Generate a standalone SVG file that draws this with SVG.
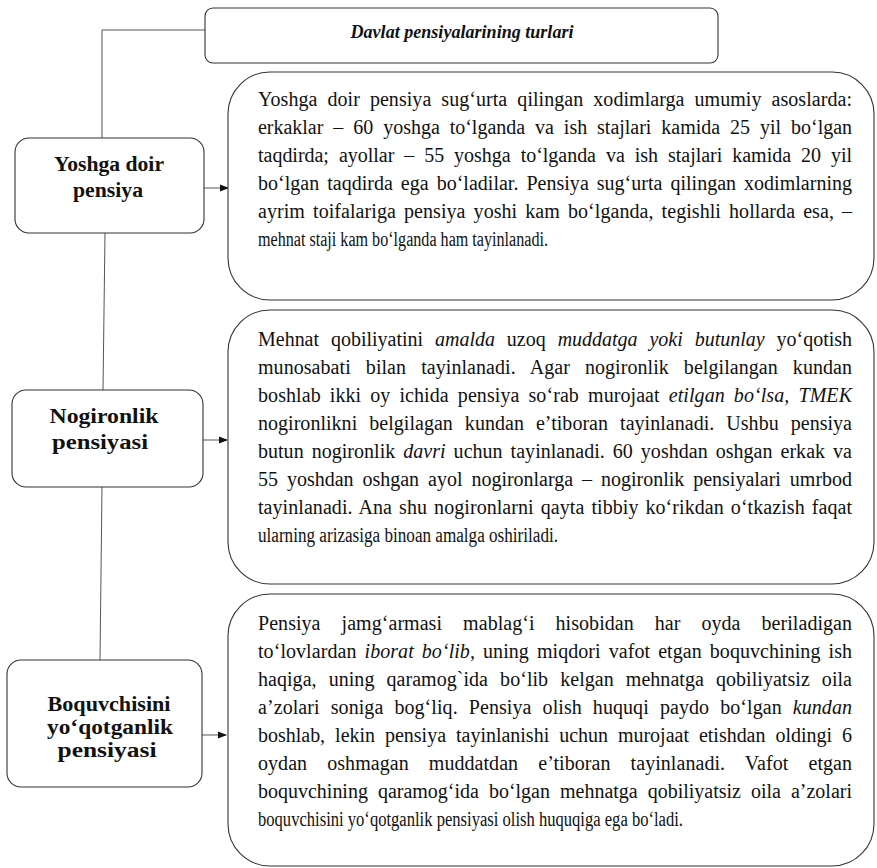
<svg xmlns="http://www.w3.org/2000/svg" width="877" height="868" viewBox="0 0 877 868">
<defs>
<style>
.box{fill:#fff;stroke:#333;stroke-width:1.1}
.tbox{fill:#fff;stroke:#333;stroke-width:1.1}
.conn{fill:none;stroke:#555;stroke-width:1}
.lbl{font-family:"Liberation Serif","Times New Roman",serif;font-weight:bold;font-size:20px;fill:#111;text-anchor:middle}
.ttl{font-family:"Liberation Serif","Times New Roman",serif;font-weight:bold;font-style:italic;font-size:18px;fill:#111;text-anchor:middle}
.body{font-family:"Liberation Serif","Times New Roman",serif;font-size:20px;fill:#111}
.it{font-style:italic}
</style>
<marker id="ah" markerWidth="9" markerHeight="8" refX="8" refY="4" orient="auto" markerUnits="userSpaceOnUse">
<path d="M0,0.5 L9,4 L0,7.5 Z" fill="#111"/>
</marker>
</defs>
<rect width="877" height="868" fill="#fff"/>

<g id="connectors">
<polyline class="conn" points="205,30 102,30 102,138"/>
<line class="conn" x1="105" y1="233" x2="103" y2="390"/>
<line class="conn" x1="102" y1="487" x2="100" y2="660"/>
<line class="conn" x1="204" y1="188" x2="228" y2="188" marker-end="url(#ah)"/>
<line class="conn" x1="203" y1="440" x2="227" y2="440" marker-end="url(#ah)"/>
<line class="conn" x1="202" y1="735" x2="226" y2="735" marker-end="url(#ah)"/>
</g>

<g id="title">
<rect class="box" x="205" y="8" width="513" height="55" rx="8"/>
<text class="ttl" x="462" y="38" textLength="223" lengthAdjust="spacingAndGlyphs">Davlat pensiyalarining turlari</text>
</g>

<g id="yoshga">
<rect class="box" x="15" y="138" width="189" height="95" rx="14"/>
<text class="lbl" x="109" y="171" textLength="110" lengthAdjust="spacingAndGlyphs">Yoshga doir</text>
<text class="lbl" x="108" y="197" textLength="70" lengthAdjust="spacingAndGlyphs">pensiya</text>
</g>

<g id="nogironlik">
<rect class="box" x="12" y="390" width="191" height="97" rx="14"/>
<text class="lbl" x="104" y="423" textLength="109" lengthAdjust="spacingAndGlyphs">Nogironlik</text>
<text class="lbl" x="100" y="449" textLength="96" lengthAdjust="spacingAndGlyphs">pensiyasi</text>
</g>

<g id="boquvchisini">
<rect class="box" x="7" y="660" width="195" height="127" rx="14"/>
<text class="lbl" x="109" y="711" textLength="123" lengthAdjust="spacingAndGlyphs">Boquvchisini</text>
<text class="lbl" x="110" y="734" textLength="126" lengthAdjust="spacingAndGlyphs">yo‘qotganlik</text>
<text class="lbl" x="107" y="757" textLength="99" lengthAdjust="spacingAndGlyphs">pensiyasi</text>
</g>

<g id="text1">
<rect class="tbox" x="228" y="72" width="646" height="228" rx="42"/>
<text class="body" x="258" y="106" word-spacing="5" textLength="594" lengthAdjust="spacing">Yoshga doir pensiya sug‘urta qilingan xodimlarga umumiy asoslarda:</text>
<text class="body" x="258" y="134" word-spacing="5" textLength="594" lengthAdjust="spacing">erkaklar – 60 yoshga to‘lganda va ish stajlari kamida 25 yil bo‘lgan</text>
<text class="body" x="258" y="162" word-spacing="5" textLength="594" lengthAdjust="spacing">taqdirda; ayollar – 55 yoshga to‘lganda va ish stajlari kamida 20 yil</text>
<text class="body" x="258" y="190" word-spacing="3" textLength="594" lengthAdjust="spacing">bo‘lgan taqdirda ega bo‘ladilar. Pensiya sug‘urta qilingan xodimlarning</text>
<text class="body" x="258" y="218" word-spacing="3" textLength="594" lengthAdjust="spacing">ayrim toifalariga pensiya yoshi kam bo‘lganda, tegishli hollarda esa, –</text>
<text class="body" x="258" y="246" textLength="290" lengthAdjust="spacingAndGlyphs">mehnat staji kam bo‘lganda ham tayinlanadi.</text>
</g>

<g id="text2">
<rect class="tbox" x="228" y="310" width="646" height="274" rx="42"/>
<text class="body" x="258" y="346" word-spacing="7" textLength="594" lengthAdjust="spacing">Mehnat qobiliyatini <tspan class="it">amalda</tspan> uzoq <tspan class="it">muddatga yoki butunlay</tspan> yo‘qotish</text>
<text class="body" x="258" y="374" word-spacing="10" textLength="594" lengthAdjust="spacing">munosabati bilan tayinlanadi. Agar nogironlik belgilangan kundan</text>
<text class="body" x="258" y="402" word-spacing="4" textLength="594" lengthAdjust="spacing">boshlab ikki oy ichida pensiya so‘rab murojaat <tspan class="it">etilgan bo‘lsa, TMEK</tspan></text>
<text class="body" x="258" y="430" word-spacing="7" textLength="594" lengthAdjust="spacing">nogironlikni belgilagan kundan e’tiboran tayinlanadi. Ushbu pensiya</text>
<text class="body" x="258" y="458" word-spacing="3" textLength="594" lengthAdjust="spacing">butun nogironlik <tspan class="it">davri</tspan> uchun tayinlanadi. 60 yoshdan oshgan erkak va</text>
<text class="body" x="258" y="486" word-spacing="4" textLength="594" lengthAdjust="spacing">55 yoshdan oshgan ayol nogironlarga – nogironlik pensiyalari umrbod</text>
<text class="body" x="258" y="514" word-spacing="2" textLength="594" lengthAdjust="spacing">tayinlanadi. Ana shu nogironlarni qayta tibbiy ko‘rikdan o‘tkazish faqat</text>
<text class="body" x="258" y="542" textLength="300" lengthAdjust="spacingAndGlyphs">ularning arizasiga binoan amalga oshiriladi.</text>
</g>

<g id="text3">
<rect class="tbox" x="228" y="594" width="646" height="272" rx="42"/>
<text class="body" x="258" y="630" word-spacing="16" textLength="594" lengthAdjust="spacing">Pensiya jamg‘armasi mablag‘i hisobidan har oyda beriladigan</text>
<text class="body" x="258" y="658" word-spacing="3" textLength="594" lengthAdjust="spacing">to‘lovlardan <tspan class="it">iborat bo‘lib,</tspan> uning miqdori vafot etgan boquvchining ish</text>
<text class="body" x="258" y="686" word-spacing="7" textLength="594" lengthAdjust="spacing">haqiga, uning qaramog`ida bo‘lib kelgan mehnatga qobiliyatsiz oila</text>
<text class="body" x="258" y="714" word-spacing="6" textLength="594" lengthAdjust="spacing">a’zolari soniga bog‘liq. Pensiya olish huquqi paydo bo‘lgan <tspan class="it">kundan</tspan></text>
<text class="body" x="258" y="742" word-spacing="5" textLength="594" lengthAdjust="spacing">boshlab, lekin pensiya tayinlanishi uchun murojaat etishdan oldingi 6</text>
<text class="body" x="258" y="770" word-spacing="15" textLength="594" lengthAdjust="spacing">oydan oshmagan muddatdan e’tiboran tayinlanadi. Vafot etgan</text>
<text class="body" x="258" y="798" word-spacing="5" textLength="594" lengthAdjust="spacing">boquvchining qaramog‘ida bo‘lgan mehnatga qobiliyatsiz oila a’zolari</text>
<text class="body" x="258" y="826" textLength="425" lengthAdjust="spacingAndGlyphs">boquvchisini yo‘qotganlik pensiyasi olish huquqiga ega bo‘ladi.</text>
</g>
</svg>
